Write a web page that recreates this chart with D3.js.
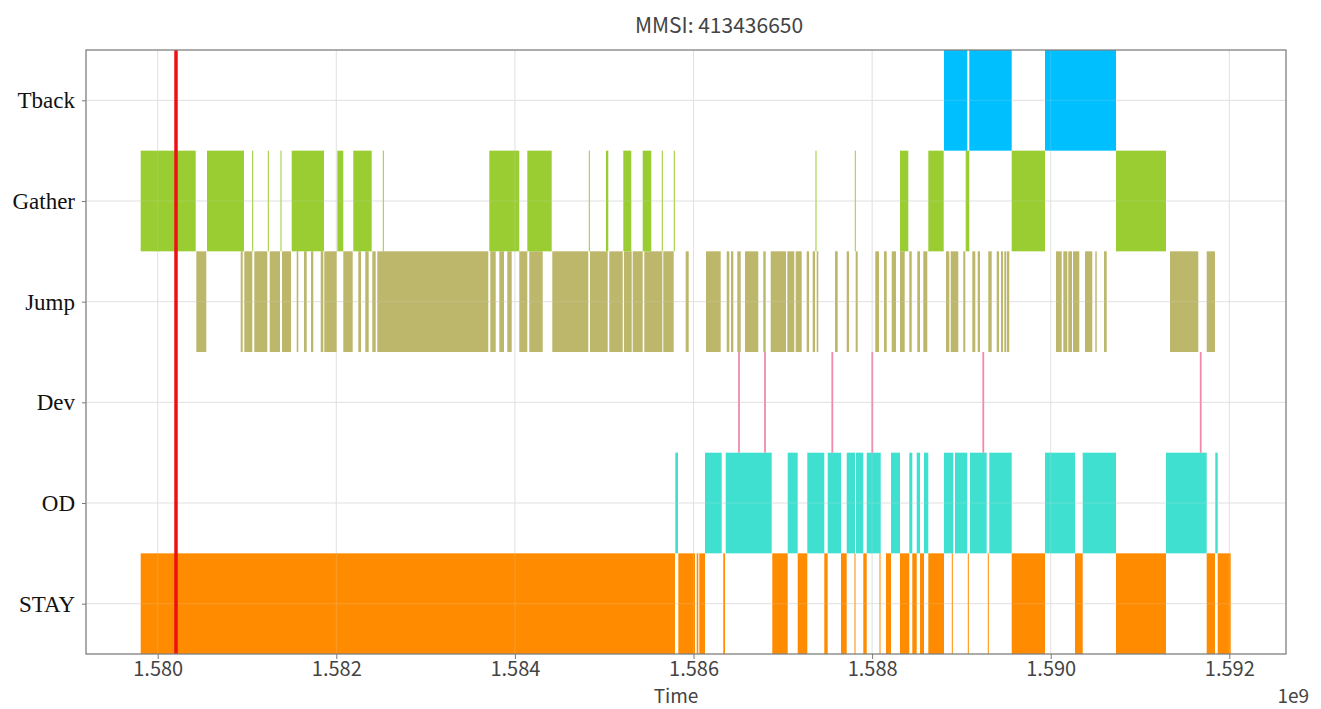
<!DOCTYPE html>
<html>
<head>
<meta charset="utf-8">
<script src="https://cdn.jsdelivr.net/npm/d3@7"></script>
<style>
  body { margin: 0; background: #fff; }
  .tickLabel { font-family: "Noto Sans CJK SC", "Noto Sans", sans-serif; font-size: 20px; fill: #444; }
  .axisLabel { font-family: "Noto Sans CJK SC", "Noto Sans", sans-serif; font-size: 19px; fill: #444; }
  .titleLabel { font-family: "Noto Sans CJK SC", "Noto Sans", sans-serif; font-size: 21px; fill: #444; }
  .catLabel { font-family: "Liberation Serif", "DejaVu Serif", serif; font-size: 23px; fill: #111; }
</style>
</head>
<body>
<div id="graphContainer"></div>
<script>
// rows from bottom to top, same order as the y positions 0..5
const categories = ["STAY", "OD", "Dev", "Jump", "Gather", "Tback"];

const categoryColors = {
  STAY: "#ff8c00",
  OD: "#40e0d0",
  Dev: "#ef8aa8",
  Jump: "#bdb76b",
  Gather: "#9acd32",
  Tback: "#00bfff",
};

// intervals are [start, end] in unix seconds
const stayIntervals = [
  [1579809600, 1585792700], [1585829700, 1586016700], [1586035700, 1586053600],
  [1586064800, 1586128700], [1586333600, 1586352600], [1586882300, 1587054700],
  [1587166700, 1587274200], [1587464600, 1587502700], [1587651600, 1587715400],
  [1587802800, 1587814000], [1587901300, 1587939400], [1588082700, 1588093900],
  [1588155500, 1588211500], [1588312300, 1588416400], [1588450000, 1588499300],
  [1588536200, 1588581000], [1588629200, 1588805000], [1588892300, 1588903500],
  [1589071500, 1589082700], [1589295400, 1589306600], [1589563100, 1589936000],
  [1590271900, 1590358200], [1590731000, 1591290900], [1591746700, 1591839700],
  [1591869900, 1592015500],
];

const odIntervals = [
  [1585796100, 1585826300], [1586128700, 1586315700], [1586360500, 1586875600],
  [1587054700, 1587166700], [1587274200, 1587464600], [1587502700, 1587651600],
  [1587715400, 1587808400], [1587819600, 1587901300], [1587939400, 1588096200],
  [1588211500, 1588312300], [1588416400, 1588450000], [1588499300, 1588536200],
  [1588581000, 1588629200], [1588805000, 1588909100], [1588928200, 1589065900],
  [1589096100, 1589283100], [1589312300, 1589563100], [1589936000, 1590271900],
  [1590358200, 1590731000], [1591290900, 1591746700], [1591843000, 1591869900],
];

const devIntervals = [
  [1586499400, 1586519400], [1586790600, 1586810600], [1587544200, 1587564200],
  [1587992100, 1588012100], [1589235100, 1589255100], [1591669500, 1591689500],
];

const jumpIntervals = [
  [1580432200, 1580544200], [1580929400, 1580951800], [1580969700, 1581059300],
  [1581081700, 1581227300], [1581254200, 1581369500], [1581391900, 1581492700],
  [1581556500, 1581574400], [1581638300, 1581668500], [1581716700, 1581742400],
  [1581825300, 1581854400], [1581865600, 1582004400], [1582078300, 1582183600],
  [1582246300, 1582276500], [1582324700, 1582362800], [1582403100, 1582441200],
  [1582459100, 1583702100], [1583724400, 1583784900], [1583825200, 1583877900],
  [1583914800, 1583964100], [1584049200, 1584138800], [1584161200, 1584311200],
  [1584418700, 1584821900], [1584840900, 1585039100], [1585057000, 1585207100],
  [1585221600, 1585307900], [1585319100, 1585431000], [1585449000, 1585650500],
  [1585661700, 1585778200], [1585912500, 1585946100], [1586139900, 1586304500],
  [1586371700, 1586400800], [1586419800, 1586445600], [1586490400, 1586528400],
  [1586576600, 1586725500], [1586781500, 1586808400], [1586864400, 1587035700],
  [1587050300, 1587128600], [1587144300, 1587211500], [1587267500, 1587293200],
  [1587334700, 1587360400], [1587379500, 1587397400], [1587584400, 1587614600],
  [1587715400, 1587741200], [1587816200, 1587838600], [1588035700, 1588077100],
  [1588133100, 1588163300], [1588219300, 1588267500], [1588312300, 1588365000],
  [1588416400, 1588443300], [1588506000, 1588536200], [1588573200, 1588617900],
  [1588827400, 1588864400], [1588880000, 1588965100], [1589021100, 1589043500],
  [1589121900, 1589155500], [1589182400, 1589208100], [1589301000, 1589339100],
  [1589395100, 1589420900], [1589443300, 1589465700], [1589480300, 1589502600],
  [1589510500, 1589536200], [1590059200, 1590122900], [1590140900, 1590185700],
  [1590196900, 1590238300], [1590249500, 1590320100], [1590383900, 1590465600],
  [1590499200, 1590515100], [1590596700, 1590626900], [1591335700, 1591652600],
  [1591746700, 1591839700],
];

const gatherIntervals = [
  [1579809600, 1580425500], [1580552100, 1580966400], [1581058200, 1581069400],
  [1581232900, 1581244100], [1581375100, 1581386300], [1581500500, 1581862200],
  [1582011200, 1582078300], [1582190300, 1582396400], [1582520700, 1582531900],
  [1583713300, 1584049200], [1584138800, 1584412000], [1584827500, 1584838700],
  [1585020100, 1585045800], [1585213800, 1585303400], [1585431000, 1585527300],
  [1585644900, 1585656100], [1585779300, 1585790500], [1587366000, 1587377200],
  [1587806100, 1587817300], [1588312300, 1588405200], [1588629200, 1588801600],
  [1589048000, 1589088300], [1589563100, 1589936000], [1590731000, 1591290900],
];

const tbackIntervals = [
  [1588805000, 1589065900], [1589088300, 1589563100], [1589936000, 1590731000],
];

// the red marker line
const markerTime = 1580204900;

const xTicks = [1.580e9, 1.582e9, 1.584e9, 1.586e9, 1.588e9, 1.590e9, 1.592e9];
const xDomain = [1579197100, 1592634700];

const title = "MMSI: 413436650";

const intervalsByCategory = {
  STAY: stayIntervals,
  OD: odIntervals,
  Dev: devIntervals,
  Jump: jumpIntervals,
  Gather: gatherIntervals,
  Tback: tbackIntervals,
};

drawChart = () => {
  const margin = { top: 50, right: 35, bottom: 55, left: 86 },
    width = 1321 - margin.left - margin.right,
    height = 709 - margin.top - margin.bottom;

  const svg = d3
    .select("#graphContainer")
    .append("svg")
    .attr("width", 1321)
    .attr("height", 709);

  const x = d3.scaleLinear().domain(xDomain).range([margin.left, margin.left + width]);
  const y = d3
    .scaleLinear()
    .domain([-0.5, categories.length - 0.5])
    .range([margin.top + height, margin.top]);

  // grid underneath the bars
  const grid = svg.append("g").attr("stroke", "#e4e4e4").attr("stroke-width", 1);
  grid
    .selectAll("line.vgrid")
    .data(xTicks)
    .join("line")
    .attr("class", "vgrid")
    .attr("x1", (d) => x(d))
    .attr("x2", (d) => x(d))
    .attr("y1", margin.top)
    .attr("y2", margin.top + height);
  grid
    .selectAll("line.hgrid")
    .data(categories)
    .join("line")
    .attr("class", "hgrid")
    .attr("x1", margin.left)
    .attr("x2", margin.left + width)
    .attr("y1", (d, i) => y(i))
    .attr("y2", (d, i) => y(i));

  // one group per category, a rect per interval (full band height)
  const rows = svg
    .append("g")
    .selectAll("g")
    .data(categories)
    .join("g")
    .attr("fill", (d) => categoryColors[d]);

  rows
    .selectAll("rect")
    .data((d, i) => intervalsByCategory[d].map((iv) => ({ iv, row: i })))
    .join("rect")
    .attr("x", (d) => x(d.iv[0]))
    .attr("width", (d) => Math.max(x(d.iv[1]) - x(d.iv[0]), 0.8))
    .attr("y", (d) => y(d.row + 0.5))
    .attr("height", (d) => y(d.row - 0.5) - y(d.row + 0.5));

  // faint grid over the bars, as in the original
  const gridTop = svg
    .append("g")
    .attr("stroke", "#dcdcdc")
    .attr("stroke-opacity", 0.2)
    .attr("stroke-width", 1);
  gridTop
    .selectAll("line.vgrid")
    .data(xTicks)
    .join("line")
    .attr("x1", (d) => x(d))
    .attr("x2", (d) => x(d))
    .attr("y1", margin.top)
    .attr("y2", margin.top + height);
  gridTop
    .selectAll("line.hgrid")
    .data(categories)
    .join("line")
    .attr("x1", margin.left)
    .attr("x2", margin.left + width)
    .attr("y1", (d, i) => y(i))
    .attr("y2", (d, i) => y(i));

  svg
    .append("line")
    .attr("x1", x(markerTime))
    .attr("x2", x(markerTime))
    .attr("y1", margin.top)
    .attr("y2", margin.top + height)
    .attr("stroke", "#ee1111")
    .attr("stroke-width", 3.5);

  // x axis
  svg
    .append("g")
    .attr("transform", "translate(0," + (margin.top + height) + ")")
    .call(
      d3
        .axisBottom(x)
        .tickValues(xTicks)
        .tickSize(5)
        .tickFormat((d) => (d / 1e9).toFixed(3))
    )
    .call((g) => g.select(".domain").remove())
    .call((g) => g.selectAll(".tick line").attr("stroke", "#777"))
    .call((g) =>
      g
        .selectAll(".tick text")
        .attr("class", "tickLabel")
        .attr("y", 22)
        .attr("dy", 0)
    );

  // y axis with the category names
  svg
    .append("g")
    .attr("transform", "translate(" + margin.left + ",0)")
    .call(
      d3
        .axisLeft(y)
        .tickValues(d3.range(categories.length))
        .tickSize(4)
        .tickFormat((d) => categories[d])
    )
    .call((g) => g.select(".domain").remove())
    .call((g) => g.selectAll(".tick line").attr("stroke", "#777"))
    .call((g) =>
      g
        .selectAll(".tick text")
        .attr("class", "catLabel")
        .attr("x", -11)
        .attr("dy", "0.32em")
    );

  // frame
  svg
    .append("rect")
    .attr("x", margin.left)
    .attr("y", margin.top)
    .attr("width", width)
    .attr("height", height)
    .attr("fill", "none")
    .attr("stroke", "#808080")
    .attr("stroke-width", 1.3);

  svg
    .append("text")
    .attr("class", "titleLabel")
    .attr("x", 719)
    .attr("y", 33)
    .attr("text-anchor", "middle")
    .text(title);

  // axis label and offset text sit right at the bottom edge
  svg
    .append("text")
    .attr("class", "axisLabel")
    .attr("x", 676)
    .attr("y", 703)
    .attr("text-anchor", "middle")
    .text("Time");

  svg
    .append("text")
    .attr("class", "axisLabel")
    .attr("x", 1309)
    .attr("y", 703)
    .attr("text-anchor", "end")
    .text("1e9");
};

window.addEventListener("DOMContentLoaded", (evt) => {
  drawChart();
});
</script>
</body>
</html>
